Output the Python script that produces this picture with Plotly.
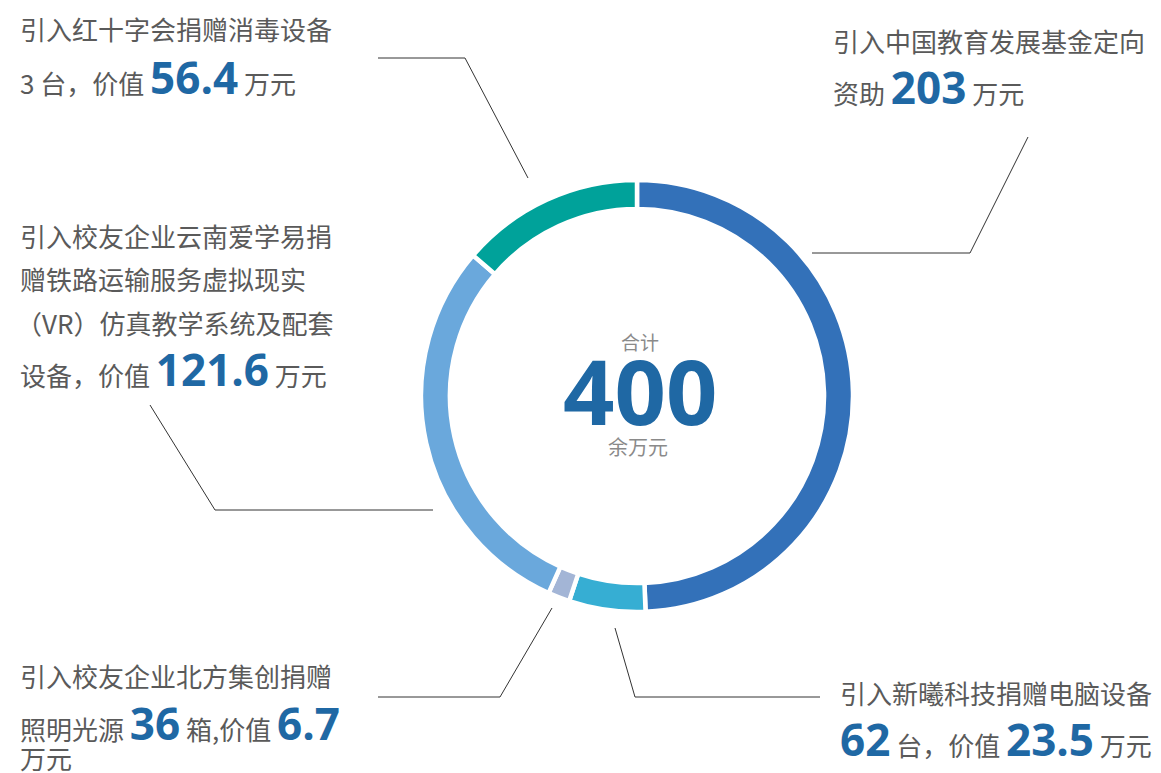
import plotly.graph_objects as go

W, H = 1161, 773

# ---- data ----
slice_names = ["中国教育发展基金", "新曦科技", "北方集创", "云南爱学易", "红十字会"]
slice_values = [203, 23.5, 6.7, 121.6, 56.4]
slice_colors = ["#3371b9", "#36aed3", "#a3b5d6", "#6aa8dc", "#00a29a"]
total_label = "400"
units_62 = 62
units_36 = 36
units_3 = 3

CJK = "Noto Sans CJK SC"
NUM = "Open Sans"
GREY = "#5a5a5a"
BLUE = "#1f68a4"

cx, cy, R = 637, 396, 216

def px(x):
    return x / W

def py(y):
    return 1 - y / H

fig = go.Figure(go.Pie(
    labels=slice_names, values=slice_values, sort=False, direction="clockwise",
    rotation=0, hole=0.866, textinfo="none", hoverinfo="label+value",
    marker=dict(colors=slice_colors, line=dict(color="white", width=4.5)),
    domain=dict(x=[px(cx - R), px(cx + R)], y=[py(cy + R), py(cy - R)]),
    showlegend=False,
))

def num(v, size=44):
    return f"<b><span style='font-family:{NUM};font-size:{size}px;color:{BLUE}'>{v}</span></b>"

anns = []
def add(x, y, text, size=26, color=GREY, anchor="left"):
    anns.append(dict(x=px(x), y=py(y), xref="paper", yref="paper", text=text,
                     showarrow=False, xanchor=anchor, yanchor="middle",
                     font=dict(family=CJK, size=size, color=color)))

# 56.4
add(18, 28, "引入红十字会捐赠消毒设备")
add(18, 77, f"{units_3} 台，价值 {num(slice_values[4])} 万元")
# 203
add(831, 40, "引入中国教育发展基金定向")
add(831, 87, f"资助 {num(slice_values[0])} 万元")
# 121.6
add(18, 235, "引入校友企业云南爱学易捐")
add(18, 279, "赠铁路运输服务虚拟现实")
add(14, 322, "（VR）仿真教学系统及配套")
add(18, 369, f"设备，价值 {num(slice_values[3])} 万元")
# 6.7
add(18, 675, "引入校友企业北方集创捐赠")
add(18, 723, f"照明光源 {num(units_36)} 箱,价值 {num(slice_values[2])}")
add(18, 757, "万元")
# 23.5
add(838, 692, "引入新曦科技捐赠电脑设备")
add(838, 739, f"{num(units_62)} 台，价值 {num(slice_values[1])} 万元")

# center
add(640, 341, "合计", size=19, color="#8a8a8a", anchor="center")
anns.append(dict(x=px(640), y=py(390), xref="paper", yref="paper",
                 text=f"<b>{total_label}</b>", showarrow=False, xanchor="center", yanchor="middle",
                 font=dict(family=NUM, size=90, color=BLUE)))
add(638, 446, "余万元", size=20, color="#8a8a8a", anchor="center")

# leader lines
leaders = [
    [(1028, 137), (970, 253), (812, 253)],
    [(378, 58), (465, 58), (528, 178)],
    [(150, 405), (215, 510), (433, 510)],
    [(378, 697), (500, 697), (552, 608)],
    [(615, 628), (635, 697), (820, 697)],
]
shapes = []
for pts in leaders:
    path = "M " + " L ".join(f"{px(x)},{py(y)}" for x, y in pts)
    shapes.append(dict(type="path", path=path, xref="paper", yref="paper",
                       line=dict(color="#333333", width=1)))

fig.update_layout(width=W, height=H, margin=dict(l=0, r=0, t=0, b=0),
                  paper_bgcolor="white", plot_bgcolor="white",
                  annotations=anns, shapes=shapes)
fig.write_html("out.html", config={"displayModeBar": False},
               post_script="document.body.style.margin='0';document.body.style.overflow='hidden';")
